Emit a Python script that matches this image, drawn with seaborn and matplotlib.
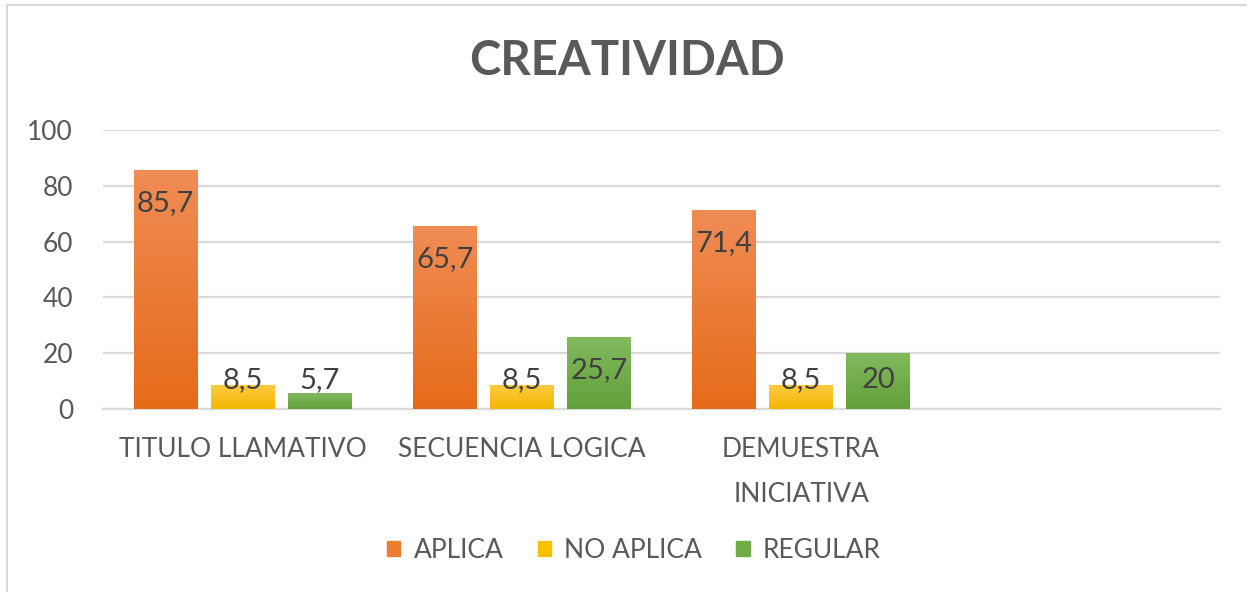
"""Grouped bar chart: CREATIVIDAD."""

import matplotlib
matplotlib.use("Agg")
import matplotlib.pyplot as plt
import matplotlib.patches as mpatches
from matplotlib.colors import LinearSegmentedColormap
import numpy as np
import pandas as pd
import seaborn as sns

# data
categories = ["TITULO LLAMATIVO", "SECUENCIA LOGICA", "DEMUESTRA\nINICIATIVA"]
series = ["APLICA", "NO APLICA", "REGULAR"]
aplica = [85.7, 65.7, 71.4]
no_aplica = [8.5, 8.5, 8.5]
regular = [5.7, 25.7, 20]
y_ticks = [0, 20, 40, 60, 80, 100]

colors = {"APLICA": "#ED7D31", "NO APLICA": "#FFC000", "REGULAR": "#70AD47"}
gradients = {
    "APLICA": ("#F08C55", "#E56B19"),
    "NO APLICA": ("#FFCA40", "#F2B800"),
    "REGULAR": ("#82BA5E", "#63A03A"),
}
TEXT = "#595959"
GRID = "#D9D9D9"
FONT = "Lato"

df = pd.DataFrame({
    "categoria": categories * 3,
    "serie": [s for s in series for _ in categories],
    "valor": aplica + no_aplica + regular,
})

sns.set_style("white")
plt.rcParams["font.family"] = [FONT, "DejaVu Sans"]

fig = plt.figure(figsize=(12.47, 5.92), dpi=100)
ax = fig.add_axes([103 / 1247, 1 - 409 / 592, (1220 - 103) / 1247, (409 - 130) / 592])

sns.barplot(data=df, x="categoria", y="valor", hue="serie", order=categories,
            hue_order=series, palette=colors, width=0.828, ax=ax,
            legend=False, saturation=1, linewidth=0, zorder=3)

ax.set_xlim(-0.5, 3.5)
ax.set_ylim(0, 100)
ax.set_yticks(y_ticks)
ax.set_yticklabels([str(t) for t in y_ticks], fontsize=19, color=TEXT)
ax.set_xticks(range(len(categories)))
ax.set_xticklabels(categories, fontsize=19, color=TEXT, linespacing=2.0)
ax.tick_params(axis="x", length=0, pad=20)
ax.tick_params(axis="y", length=0, pad=21.5)
ax.set_xlabel("")
ax.set_ylabel("")
ax.yaxis.grid(True, color=GRID, linewidth=1.6, zorder=0)
for side in ["top", "right", "left"]:
    ax.spines[side].set_visible(False)
ax.spines["bottom"].set_color(GRID)
ax.spines["bottom"].set_linewidth(1.6)

# narrower bars with gaps, gradient fill, labels
bar_w = 0.229
for cont, name in zip(ax.containers, series):
    cmap = LinearSegmentedColormap.from_list(name, [gradients[name][1], gradients[name][0]])
    for patch in cont:
        cx = patch.get_x() + patch.get_width() / 2
        patch.set_x(cx - bar_w / 2)
        patch.set_width(bar_w)
        h = patch.get_height()
        grad = np.linspace(0, 1, 64).reshape(-1, 1)
        im = ax.imshow(grad, cmap=cmap, aspect="auto", origin="lower",
                       extent=(cx - bar_w / 2, cx + bar_w / 2, 0, h), zorder=3.5)
        im.set_clip_path(patch)
        label = f"{h:g}".replace(".", ",")
        ly = max(h - 11.8, 10.4)
        ax.text(cx, ly, label, ha="center", va="center", fontsize=21,
                color="#404040", zorder=5)

ax.set_xlim(-0.5, 3.5)
ax.set_ylim(0, 100)

fig.text(627 / 1247, 1 - 61 / 592, "CREATIVIDAD", ha="center", va="center",
         fontsize=34, fontweight="bold", color=TEXT)

handles = [mpatches.Patch(color=colors[s], label=s) for s in series]
fig.legend(handles=handles, loc="center", bbox_to_anchor=(634 / 1247, 1 - 550 / 592),
           ncol=3, frameon=False, fontsize=19, handlelength=0.5, handleheight=0.5,
           handletextpad=0.5, columnspacing=1.3, labelcolor=TEXT)

# outer chart border
fig.patches.append(mpatches.Rectangle((7 / 1247, -0.1), 1.2, 1 - 5 / 592 + 0.1,
                                      transform=fig.transFigure, fill=False,
                                      edgecolor=GRID, linewidth=1.5))

fig.savefig("out.png", dpi=100)
